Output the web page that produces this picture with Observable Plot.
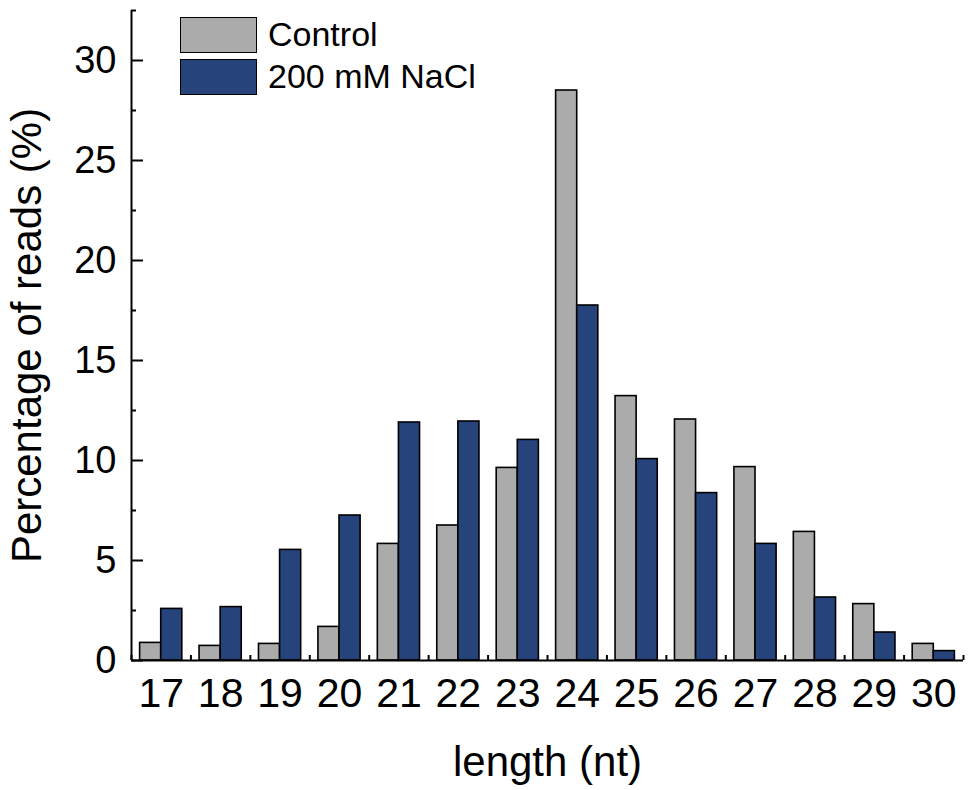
<!DOCTYPE html>
<html>
<head>
<meta charset="utf-8">
<script src="https://cdn.jsdelivr.net/npm/d3@7"></script>
<script src="https://cdn.jsdelivr.net/npm/@observablehq/plot@0.6"></script>
<style>
  html, body { margin: 0; padding: 0; background: #fff; }
  #wrap { position: relative; width: 975px; height: 790px; font-family: "Liberation Sans", Arial, sans-serif; }
  #legend { position: absolute; left: 180px; top: 16px; }
  .item { display: flex; align-items: center; height: 37px; margin-bottom: 5px; }
  .sw { width: 75px; height: 34px; border: 1.5px solid #000; box-sizing: content-box; }
  .lab { margin-left: 11px; font-size: 34px; line-height: 37px; color: #000; white-space: nowrap; }
</style>
</head>
<body>
<div id="wrap"><div id="legend"></div></div>
<script>
const lengths = [17, 18, 19, 20, 21, 22, 23, 24, 25, 26, 27, 28, 29, 30];
const control = [0.88, 0.73, 0.83, 1.68, 5.83, 6.75, 9.63, 28.5, 13.22, 12.05, 9.67, 6.43, 2.82, 0.83];
const nacl    = [2.58, 2.67, 5.53, 7.25, 11.9, 11.95, 11.03, 17.75, 10.07, 8.37, 5.83, 3.15, 1.4, 0.47];
const seriesNames = ["Control", "200 mM NaCl"];
const seriesColors = ["#ababab", "#27437c"];
const yMajor = [0, 5, 10, 15, 20, 25, 30];
const yMinor = [2.5, 7.5, 12.5, 17.5, 22.5, 27.5, 32.5];
const xTitle = "length (nt)";
const yTitle = "Percentage of reads (%)";

const xDomain = [lengths[0] - 0.5, lengths[lengths.length - 1] + 0.5];
const yDomain = [0, 32.5];
const barW = 0.355;
const boundaries = lengths.map(d => d - 0.5).concat([xDomain[1]]);

const rows = lengths.flatMap((L, i) => [
  {length: L, series: seriesNames[0], value: control[i]},
  {length: L, series: seriesNames[1], value: nacl[i]}
]);

const chart = Plot.plot({
  width: 975,
  height: 790,
  marginLeft: 131,
  marginRight: 12,
  marginTop: 10,
  marginBottom: 130,
  style: {fontFamily: '"Liberation Sans", Arial, sans-serif', color: "#000", background: "#fff", overflow: "visible"},
  x: {domain: xDomain},
  y: {domain: yDomain},
  color: {domain: seriesNames, range: seriesColors},
  marks: [
    Plot.rectY(rows, {
      x1: d => d.series === seriesNames[0] ? d.length - barW : d.length,
      x2: d => d.series === seriesNames[0] ? d.length : d.length + barW,
      y1: 0,
      y2: "value",
      fill: "series",
      stroke: "#000",
      strokeWidth: 1.6
    }),
    Plot.ruleY([yDomain[0]], {stroke: "#000", strokeWidth: 2}),
    Plot.ruleX([xDomain[0]], {stroke: "#000", strokeWidth: 2}),
    Plot.axisX(boundaries, {tickSize: -5, fill: "none", stroke: "#000", strokeWidth: 2, label: null}),
    Plot.axisX(lengths, {tickSize: 0, tickPadding: 17, fontSize: 41, fill: "#000", label: null}),
    Plot.axisY(yMajor, {tickSize: -12, fill: "none", stroke: "#000", strokeWidth: 2, label: null}),
    Plot.axisY(yMinor, {tickSize: -5, fill: "none", stroke: "#000", strokeWidth: 2, label: null}),
    Plot.axisY(yMajor, {tickSize: 0, tickPadding: 15, fontSize: 38, fill: "#000", label: null}),
    Plot.text([xTitle], {text: d => d, frameAnchor: "bottom", textAnchor: "middle", dy: 101.6, fontSize: 42, lineAnchor: "middle", fill: "#000"}),
    Plot.text([yTitle], {text: d => d, frameAnchor: "left", textAnchor: "middle", rotate: -90, dx: -104.4, fontSize: 42, lineAnchor: "middle", fill: "#000"})
  ]
});

const wrap = document.getElementById("wrap");
wrap.insertBefore(chart, wrap.firstChild);

const legend = document.getElementById("legend");
seriesNames.forEach((name, i) => {
  const item = document.createElement("div");
  item.className = "item";
  const sw = document.createElement("div");
  sw.className = "sw";
  sw.style.background = seriesColors[i];
  const lab = document.createElement("span");
  lab.className = "lab";
  lab.textContent = name;
  item.appendChild(sw);
  item.appendChild(lab);
  legend.appendChild(item);
});
</script>
</body>
</html>
